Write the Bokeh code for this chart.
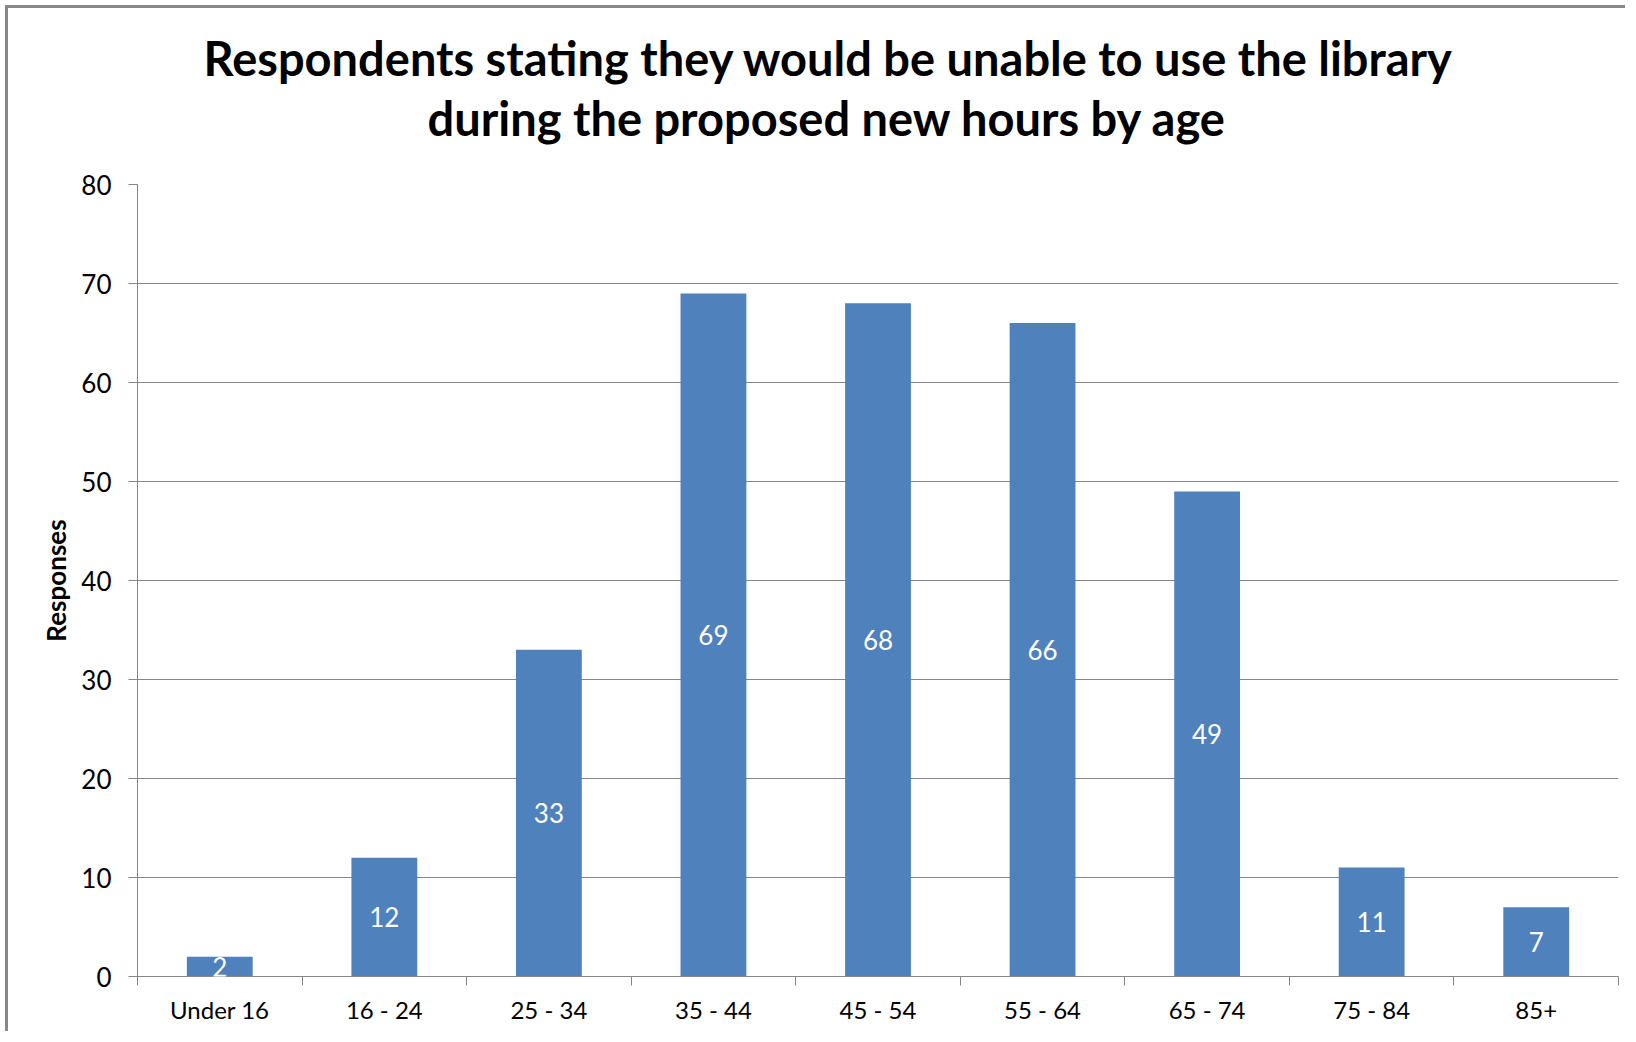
from bokeh.plotting import figure
from bokeh.models import (ColumnDataSource, Range1d, LinearAxis, LabelSet, Title, FixedTicker)
from bokeh.core.properties import value
from bokeh.embed import file_html
from bokeh.resources import INLINE

categories = ["Under 16", "16 - 24", "25 - 34", "35 - 44", "45 - 54", "55 - 64", "65 - 74", "75 - 84", "85+"]
responses = [2, 12, 33, 69, 68, 66, 49, 11, 7]
y_ticks = [0, 10, 20, 30, 40, 50, 60, 70, 80]
title_lines = ["Respondents stating they would be unable to use the library",
               "during the proposed new hours by age"]
y_title = "Responses"

FONT = "Lato"
GRAY = "#868686"
BLUE = "#4F81BD"

n = len(categories)
centers = [i + 0.5 for i in range(n)]
src = ColumnDataSource(dict(x=centers, val=responses,
                            mid=[v / 2 for v in responses],
                            lbl=[str(v) for v in responses]))

p = figure(width=1620, height=1026, x_range=Range1d(0, n),
           y_range=Range1d(y_ticks[0], y_ticks[-1]),
           output_backend="svg", toolbar_location=None, tools="",
           min_border_left=129, min_border_right=10, min_border_top=176, min_border_bottom=58,
           x_axis_location=None)
p.outline_line_color = None
p.background_fill_color = "white"
p.border_fill_color = "white"

p.vbar(x="x", top="val", width=0.4, source=src, fill_color=BLUE, line_color=None)

# y axis
yax = p.yaxis[0]
yax.ticker = FixedTicker(ticks=y_ticks)
yax.axis_line_color = GRAY
yax.major_tick_line_color = GRAY
yax.major_tick_out = 9
yax.major_tick_in = 0
yax.minor_tick_line_color = None
yax.major_label_text_font = FONT
yax.major_label_text_font_size = "26px"
yax.major_label_text_color = "#000000"
yax.major_label_standoff = 17
yax.axis_label = y_title
yax.axis_label_text_font = FONT
yax.axis_label_text_font_size = "26px"
yax.axis_label_text_font_style = "bold"
yax.axis_label_text_color = "#000000"
yax.axis_label_standoff = 6

p.ygrid.ticker = FixedTicker(ticks=y_ticks)
p.ygrid.grid_line_color = GRAY
p.xgrid.grid_line_color = None

# category-boundary ticks on x axis
edge_axis = LinearAxis(ticker=FixedTicker(ticks=list(range(n + 1))),
                       axis_line_color=GRAY, major_tick_line_color=GRAY, major_tick_out=9, major_tick_in=0,
                       minor_tick_line_color=None, major_label_text_font_size="0px",
                       major_label_standoff=0, major_label_text_alpha=0)
p.add_layout(edge_axis, "below")
cat_axis = LinearAxis(ticker=FixedTicker(ticks=centers),
                      major_label_overrides={c: lab for c, lab in zip(centers, categories)},
                      axis_line_color=None, major_tick_line_color=None, minor_tick_line_color=None,
                      major_label_text_font=FONT, major_label_text_font_size="24px",
                      major_label_text_color="#000000", major_label_standoff=3)
p.add_layout(cat_axis, "below")

labels = LabelSet(x="x", y="mid", text="lbl", source=src, text_align="center", text_baseline="middle",
                  text_color="white", text_font=value(FONT), text_font_size=value("26px"))
p.add_layout(labels)

p.add_layout(Title(text=title_lines[1], align="left", offset=290, standoff=77, text_font=FONT,
                   text_font_size="47px", text_font_style="bold", text_color="#000000"), "above")
p.add_layout(Title(text=title_lines[0], align="left", offset=66, standoff=-72, text_font=FONT,
                   text_font_size="47px", text_font_style="bold", text_color="#000000"), "above")

p.styles = {"margin-left": "5px", "margin-top": "5px",
            "border-left": "3px solid #888888", "border-top": "3px solid #888888"}

open("out.html", "w").write(file_html(p, INLINE))
